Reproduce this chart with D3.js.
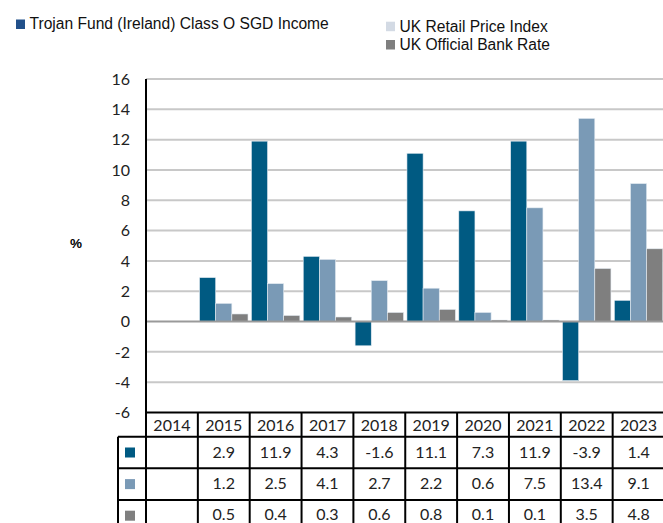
<!DOCTYPE html>
<html>
<head>
<meta charset="utf-8">
<script src="https://cdn.jsdelivr.net/npm/d3@7/dist/d3.min.js"></script>
<style>
  body { margin: 0; background: #fff; }
  svg { display: block; }
  .tick-label, .cell { font-family: Lato, "Open Sans", sans-serif; font-size: 16px; fill: #222; }
  .legend { font-family: "Liberation Sans", Arial, sans-serif; font-size: 15.6px; fill: #111; }
</style>
</head>
<body>
<div id="chart"></div>
<script>
  let years = ['2014', '2015', '2016', '2017', '2018', '2019', '2020', '2021', '2022', '2023'];
  let fundValues = [null, 2.9, 11.9, 4.3, -1.6, 11.1, 7.3, 11.9, -3.9, 1.4];
  let rpiValues = [null, 1.2, 2.5, 4.1, 2.7, 2.2, 0.6, 7.5, 13.4, 9.1];
  let bankValues = [null, 0.5, 0.4, 0.3, 0.6, 0.8, 0.1, 0.1, 3.5, 4.8];
  let yTicks = [-6, -4, -2, 0, 2, 4, 6, 8, 10, 12, 14, 16];
  let seriesNames = ['Trojan Fund (Ireland) Class O SGD Income', 'UK Retail Price Index', 'UK Official Bank Rate'];

  let barColors = ['#005a82', '#7a9ab6', '#7f7f7f'];
  let legendColors = ['#21508a', '#d3dae4', '#7f7f7f'];

  let width = 663, height = 523;
  let plot = {left: 146, right: 664.5, top: 79, bottom: 412.5};

  let series = [fundValues, rpiValues, bankValues];

  // labels use a plain hyphen for negatives, as in the source table
  let fmt = (v) => v.toFixed(1);

  let svg = d3.select('#chart').append('svg')
    .attr('width', width)
    .attr('height', height);

  let x = d3.scaleBand()
    .domain(years)
    .range([plot.left, plot.right])
    .padding(0);

  let x1 = d3.scaleBand()
    .domain(d3.range(series.length))
    .range([1.7, x.bandwidth() - 1.7])
    .padding(0);

  let y = d3.scaleLinear()
    .domain([-6, 16])
    .range([plot.bottom, plot.top]);

  // gridlines
  svg.append('g').selectAll('line')
    .data(yTicks.filter((t) => t !== 0 && t !== -6))
    .enter()
    .append('line')
    .attr('x1', plot.left)
    .attr('x2', width)
    .attr('y1', (d) => y(d))
    .attr('y2', (d) => y(d))
    .attr('stroke', '#c8c8c8')
    .attr('stroke-width', 2);

  // bars
  let rows = [];
  years.forEach((yr, i) => {
    series.forEach((s, j) => {
      if (s[i] !== null) rows.push({year: yr, s: j, v: s[i]});
    });
  });

  svg.append('g').selectAll('rect')
    .data(rows)
    .enter()
    .append('rect')
    .attr('x', (d) => x(d.year) + x1(d.s))
    .attr('y', (d) => y(Math.max(0, d.v)))
    .attr('width', x1.bandwidth())
    .attr('height', (d) => Math.abs(y(d.v) - y(0)))
    .attr('fill', (d) => barColors[d.s])
    .attr('stroke', '#e4ecf2')
    .attr('stroke-width', 0.6);

  // zero line
  svg.append('line')
    .attr('x1', plot.left)
    .attr('x2', width)
    .attr('y1', y(0))
    .attr('y2', y(0))
    .attr('stroke', '#9a9a9a')
    .attr('stroke-width', 2);

  // y tick labels
  svg.append('g').selectAll('text')
    .data(yTicks)
    .enter()
    .append('text')
    .attr('class', 'tick-label')
    .attr('x', 130)
    .attr('y', (d) => y(d))
    .attr('dy', '0.36em')
    .attr('text-anchor', 'end')
    .text((d) => d);

  svg.append('text')
    .attr('x', 76)
    .attr('y', 247.5)
    .attr('text-anchor', 'middle')
    .style('font-family', '"Liberation Sans", Arial, sans-serif')
    .style('font-size', '13.5px')
    .style('font-weight', 'bold')
    .text('%');

  // table
  let headerTop = plot.bottom, headerBottom = 436.7, rowH = 31.6;
  let rowTops = [headerBottom, headerBottom + rowH, headerBottom + 2 * rowH];
  let textBase = [458.2, 489.4, 519.6];
  let legendLeft = 118;
  let edges = years.map((yr) => x(yr)).concat([plot.right]);

  let table = svg.append('g');

  table.selectAll('text.head')
    .data(years)
    .enter()
    .append('text')
    .attr('class', 'cell')
    .attr('x', (d) => x(d) + x.bandwidth() / 2)
    .attr('y', 430.7)
    .attr('text-anchor', 'middle')
    .text((d) => d);

  series.forEach((s, j) => {
    table.append('rect')
      .attr('x', 125)
      .attr('y', rowTops[j] + rowH / 2 - 5)
      .attr('width', 10)
      .attr('height', 10)
      .attr('fill', barColors[j]);

    table.append('g').selectAll('text')
      .data(years.map((yr, i) => ({year: yr, v: s[i]})).filter((d) => d.v !== null))
      .enter()
      .append('text')
      .attr('class', 'cell')
      .attr('x', (d) => x(d.year) + x.bandwidth() / 2)
      .attr('y', textBase[j])
      .attr('text-anchor', 'middle')
      .text((d) => fmt(d.v));
  });

  // table borders
  let hLines = [{y: headerTop, x1: plot.left}].concat(rowTops.map((t) => ({y: t, x1: legendLeft})));
  table.selectAll('line.h')
    .data(hLines)
    .enter()
    .append('line')
    .attr('x1', (d) => d.x1)
    .attr('x2', width)
    .attr('y1', (d) => d.y)
    .attr('y2', (d) => d.y)
    .attr('stroke', '#000')
    .attr('stroke-width', 2);

  table.selectAll('line.v')
    .data(edges)
    .enter()
    .append('line')
    .attr('x1', (d) => d)
    .attr('x2', (d) => d)
    .attr('y1', (d, i) => i === 0 ? plot.top : headerTop)
    .attr('y2', height)
    .attr('stroke', '#000')
    .attr('stroke-width', 2);

  table.append('line')
    .attr('x1', legendLeft)
    .attr('x2', legendLeft)
    .attr('y1', headerBottom)
    .attr('y2', height)
    .attr('stroke', '#000')
    .attr('stroke-width', 2);

  // legend
  let legendItems = [
    {x: 16, y: 19.5, name: seriesNames[0], color: legendColors[0]},
    {x: 386, y: 21.7, name: seriesNames[1], color: legendColors[1]},
    {x: 386, y: 40, name: seriesNames[2], color: legendColors[2]}
  ];

  let legend = svg.append('g').selectAll('g')
    .data(legendItems)
    .enter()
    .append('g');

  legend.append('rect')
    .attr('x', (d) => d.x)
    .attr('y', (d) => d.y)
    .attr('width', 9)
    .attr('height', 9.5)
    .attr('fill', (d) => d.color);

  legend.append('text')
    .attr('class', 'legend')
    .attr('x', (d) => d.x + 13.5)
    .attr('y', (d) => d.y + 9.8)
    .text((d) => d.name);
</script>
</body>
</html>
